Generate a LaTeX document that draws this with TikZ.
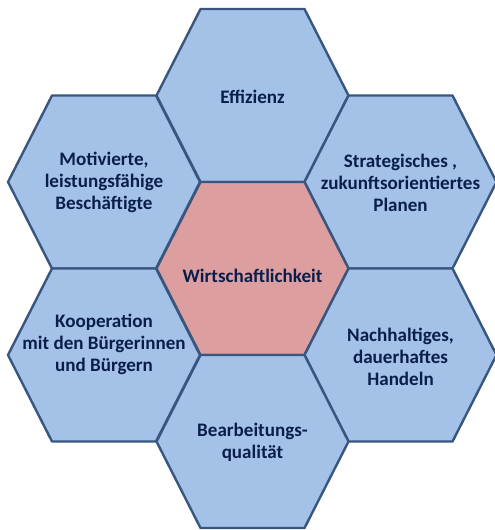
\documentclass[tikz,border=0pt]{standalone}
\usepackage{fontspec}
\setmainfont{Carlito}
\usepackage{tikz}
\definecolor{cellblue}{RGB}{164,194,232}
\definecolor{cellred}{RGB}{220,158,158}
\definecolor{celledge}{RGB}{56,86,126}
\definecolor{celltext}{RGB}{10,30,76}

\begin{document}
\begin{tikzpicture}[x=0.75pt,y=-0.75pt,
        cell/.style={draw=celledge,line width=1.8pt,line join=round},
        hextext/.style={text=celltext,font=\fontsize{14.3}{16.5}\selectfont\bfseries,align=center}]
        \useasboundingbox (0,0) rectangle (494,530);

        \foreach \x/\y/\c in {252.5/95.5/cellblue, 104/182/cellblue, 400.5/182/cellblue,
                252.5/268.5/cellred, 104/355/cellblue, 400.5/355/cellblue, 252.5/441.5/cellblue}
            \filldraw[cell,fill=\c] (\x-96,\y) -- (\x-52,\y-86.5) -- (\x+52,\y-86.5)
                -- (\x+96,\y) -- (\x+52,\y+86.5) -- (\x-52,\y+86.5) -- cycle;

        \node[hextext] (eff) at (252.5,97) {Effizienz};
        \node[hextext] (motiv) at (104,182) {Motivierte,\\leistungsfähige\\Beschäftigte};
        \node[hextext] (strat) at (400.5,183) {Strategisches ,\\zukunftsorientiertes\\Planen};
        \node[hextext] (wirt) at (252.5,276) {Wirtschaftlichkeit};
        \node[hextext] (koop) at (104,344) {Kooperation\\mit den Bürgerinnen\\und Bürgern};
        \node[hextext] (nach) at (400.5,357) {Nachhaltiges,\\dauerhaftes\\Handeln};
        \node[hextext] (bearb) at (252.5,442) {Bearbeitungs-\\qualität};
    \end{tikzpicture}
\end{document}
